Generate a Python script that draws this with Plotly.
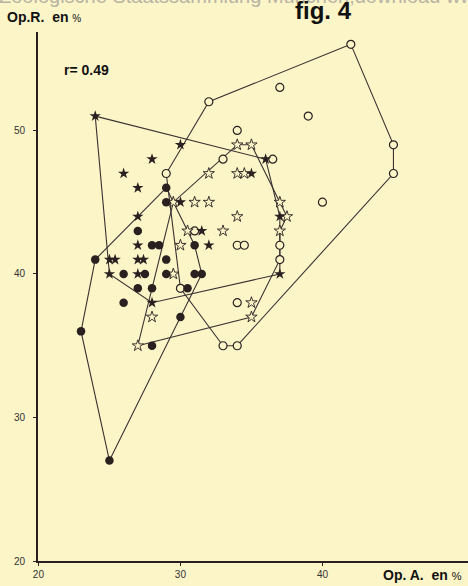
import plotly.graph_objects as go

# ---------------- data ----------------
# filled circles
fc_x = [29, 29, 27, 28, 28.5, 31, 24, 29, 26, 27.5, 29, 31, 31.5, 27, 28, 30.5, 26, 30, 23, 28, 25]
fc_y = [46, 45, 43, 42, 42, 42, 41, 41, 40, 40, 40, 40, 40, 39, 39, 39, 38, 37, 36, 35, 27]
# open circles
oc_x = [42, 37, 32, 39, 34, 45, 36.5, 33, 29, 45, 40, 31, 34, 34.5, 37, 37, 30, 34, 33, 34]
oc_y = [56, 53, 52, 51, 50, 49, 48, 48, 47, 47, 45, 43, 42, 42, 42, 41, 39, 38, 35, 35]
# filled stars
fs_x = [24, 30, 28, 36, 26, 35, 27, 30, 27, 37, 31.5, 27, 32, 25, 25.4, 27, 27.4, 25, 27, 37, 28]
fs_y = [51, 49, 48, 48, 47, 47, 46, 45, 44, 44, 43, 42, 42, 41, 41, 41, 41, 40, 40, 40, 38]
# open stars
os_x = [34, 35, 32, 34, 34.5, 29.5, 31, 32, 37, 34, 37.5, 30.5, 33, 37, 30, 29.5, 35, 28, 35, 27]
os_y = [49, 49, 47, 47, 47, 45, 45, 45, 45, 44, 44, 43, 43, 43, 42, 40, 38, 37, 37, 35]

# outline polygons around each group
fc_hull_x = [29, 31, 31.5, 30, 25, 23, 24, 29]
fc_hull_y = [46, 42, 40, 37, 27, 36, 41, 46]
oc_hull_x = [42, 45, 45, 34, 33, 30, 29, 32, 42]
oc_hull_y = [56, 49, 47, 35, 35, 39, 47, 52, 56]
fs_hull_x = [24, 36, 37, 37, 28, 25, 24]
fs_hull_y = [51, 48, 44, 40, 38, 40, 51]
os_hull_x = [34, 35, 37, 37.5, 37, 37, 35, 27, 29.5, 34]
os_hull_y = [49, 49, 45, 44, 43, 41, 37, 35, 45, 49]

x_ticks = [20, 30, 40]
y_ticks = [20, 30, 40, 50]
r_text = "r= 0.49"

# ---------------- style ----------------
BG = "#fcf5c8"
INK = "#2a2020"
LINE = "#3a3232"
FONT = "Liberation Sans"

W, H = 468, 586
ML, MR, MT, MB = 38, 0, 32, 25
PW, PH = W - ML - MR, H - MT - MB


def px(xp):
    return (xp - ML) / PW


def py(yp):
    return (H - MB - yp) / PH


fig = go.Figure()

for hx, hy in [(fc_hull_x, fc_hull_y), (oc_hull_x, oc_hull_y),
               (fs_hull_x, fs_hull_y), (os_hull_x, os_hull_y)]:
    fig.add_trace(go.Scatter(x=hx, y=hy, mode="lines",
                             line=dict(color=LINE, width=1.1),
                             hoverinfo="skip", showlegend=False))

fig.add_trace(go.Scatter(x=oc_x, y=oc_y, mode="markers",
                         marker=dict(symbol="circle", size=8, color=BG,
                                     line=dict(color=INK, width=1.2)),
                         showlegend=False))
fig.add_trace(go.Scatter(x=os_x, y=os_y, mode="markers",
                         marker=dict(symbol="star", size=8.5, color=BG,
                                     line=dict(color=INK, width=0.9)),
                         showlegend=False))
fig.add_trace(go.Scatter(x=fc_x, y=fc_y, mode="markers",
                         marker=dict(symbol="circle", size=8.5, color=INK,
                                     line=dict(width=0)),
                         showlegend=False))
fig.add_trace(go.Scatter(x=fs_x, y=fs_y, mode="markers",
                         marker=dict(symbol="star", size=8.5, color=INK,
                                     line=dict(width=0)),
                         showlegend=False))

axis_common = dict(showline=True, linecolor=INK, linewidth=1.6, ticks="outside",
                   ticklen=3, tickwidth=1, tickcolor=INK, showgrid=False,
                   zeroline=False, tickfont=dict(family=FONT, size=10, color="#333"))

fig.update_layout(
    width=W, height=H, autosize=False,
    margin=dict(l=ML, r=MR, t=MT, b=MB, pad=0),
    paper_bgcolor=BG, plot_bgcolor=BG,
    xaxis=dict(range=[19.97, 50.25], tickvals=x_ticks, **axis_common),
    yaxis=dict(range=[20, 56.86], tickvals=y_ticks, ticklabelstandoff=6, **axis_common),
    font=dict(family=FONT, color=INK),
)

ann = [
    dict(text="Zoologische Staatssammlung München;download www.zobodat.at",
         x=px(-3), y=py(-4), xanchor="left", yanchor="middle",
         font=dict(size=20, color="#b8b4a4")),
    dict(text="<b>fig. 4</b>", x=px(323), y=py(10), xanchor="center", yanchor="middle",
         font=dict(size=24, color="#111")),
    dict(text="<b>Op.R.</b>  <b>en</b> <span style='font-size:10px'>%</span>",
         x=px(5), y=py(17), xanchor="left", yanchor="middle",
         font=dict(size=14, color="#111")),
    dict(text="<b>Op. A.</b>  <b>en</b> <span style='font-size:11px'>%</span>",
         x=px(381), y=py(575), xanchor="left", yanchor="middle",
         font=dict(size=14, color="#111")),
    dict(text="<b>" + r_text + "</b>", x=px(62), y=py(70), xanchor="left",
         yanchor="middle", font=dict(size=14, color="#111")),
]
for a in ann:
    a.update(xref="paper", yref="paper", showarrow=False)
    fig.add_annotation(**a)

fig.write_html("out.html", config={"displayModeBar": False},
               post_script="document.body.style.margin='0';document.body.style.padding='0';")
